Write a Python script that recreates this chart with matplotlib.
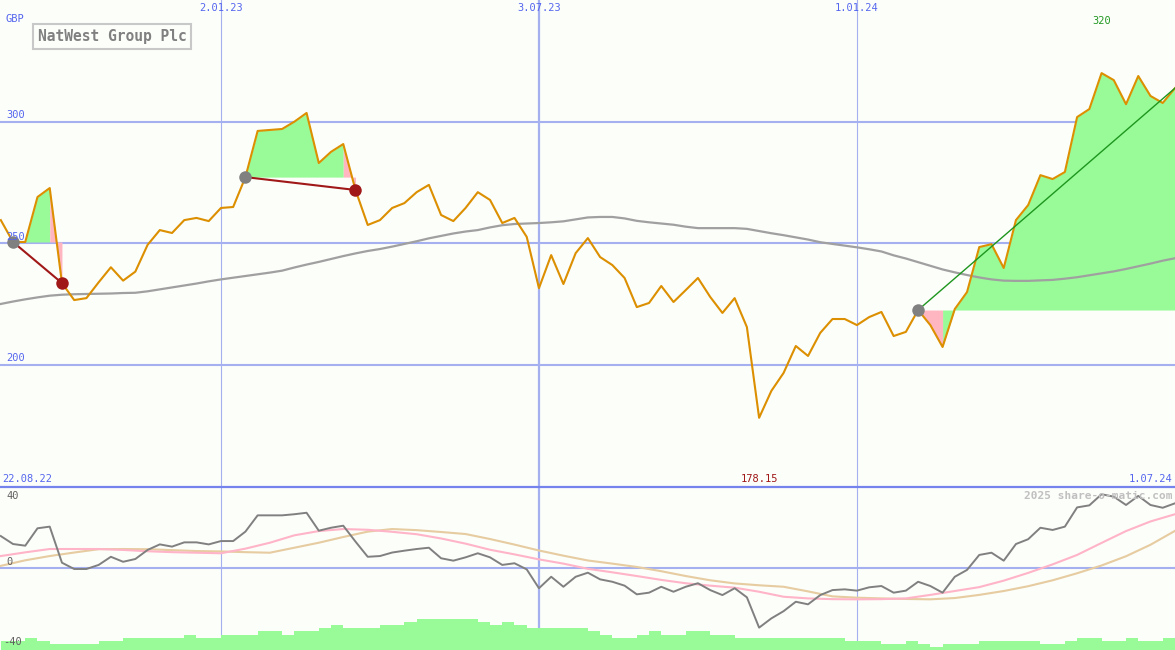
import matplotlib
matplotlib.use("Agg")
import matplotlib.pyplot as plt
import matplotlib.dates as mdates
import matplotlib.transforms as mtransforms
import pandas as pd
import numpy as np

# ---------------- data ----------------
dates = pd.date_range("2022-08-29", periods=97, freq="7D")

price = [259.5, 250.5, 250.5, 269.0, 272.7, 233.6, 226.6, 227.4, 233.9, 240.1,
         234.6, 238.3, 249.3, 255.4, 254.2, 259.5, 260.4, 259.1, 264.5, 264.9,
         277.2, 296.2, 296.6, 297.0, 300.0, 303.6, 283.0, 287.6, 290.8, 271.9,
         257.5, 259.5, 264.5, 266.5, 271.0, 274.0, 261.6, 259.1, 264.5, 271.0,
         267.8, 258.3, 260.4, 252.6, 231.5, 245.1, 233.2, 245.9, 252.1, 244.3,
         241.0, 235.7, 223.7, 225.4, 232.4, 225.8, 230.7, 235.7, 227.9, 221.3,
         227.4, 215.5, 178.15, 189.2, 196.6, 207.7, 203.6, 213.1, 218.8, 218.8,
         216.3, 219.6, 221.7, 211.8, 213.5, 222.5, 216.3, 207.3, 222.9, 229.9,
         248.4, 249.6, 239.8, 259.5, 265.7, 278.0, 276.4, 279.3, 301.9, 305.2,
         320.0, 317.1, 307.2, 318.8, 310.6, 307.7, 313.8]

ma_long = [225.0, 226.0, 226.9, 227.7, 228.4, 228.8, 229.0, 229.1, 229.2, 229.3,
           229.5, 229.6, 230.2, 231.0, 231.8, 232.6, 233.4, 234.3, 235.1, 235.8,
           236.5, 237.2, 237.9, 238.7, 240.0, 241.2, 242.3, 243.5, 244.7, 245.8,
           246.8, 247.6, 248.6, 249.7, 250.8, 252.0, 253.0, 254.0, 254.8, 255.4,
           256.5, 257.4, 257.9, 258.1, 258.3, 258.6, 259.0, 259.8, 260.6, 260.8,
           260.8, 260.2, 259.2, 258.6, 258.1, 257.6, 256.8, 256.2, 256.2, 256.2,
           256.2, 255.9, 255.0, 254.1, 253.3, 252.4, 251.5, 250.4, 249.7, 249.0,
           248.3, 247.5, 246.6, 245.0, 243.7, 242.2, 240.7, 239.2, 238.0, 236.9,
           235.9, 235.1, 234.6, 234.5, 234.5, 234.7, 234.9, 235.4, 236.0, 236.8,
           237.6, 238.4, 239.4, 240.5, 241.6, 242.8, 243.8]

momentum = [17.1, 12.8, 11.9, 21.3, 22.2, 2.7, -0.7, -0.7, 1.5, 5.9,
            3.2, 4.7, 9.6, 12.6, 11.4, 13.7, 13.7, 12.6, 14.4, 14.4,
            19.5, 28.3, 28.3, 28.3, 28.9, 29.7, 20.0, 21.6, 22.7, 14.1,
            5.9, 6.3, 8.2, 9.2, 10.1, 10.8, 5.1, 3.8, 5.6, 7.8,
            5.6, 1.5, 2.4, -0.9, -11.1, -4.9, -10.3, -4.9, -2.7, -6.3,
            -7.6, -9.7, -14.4, -13.5, -10.3, -13.0, -10.3, -8.4, -12.1, -14.8,
            -11.1, -16.0, -32.4, -27.4, -23.5, -18.4, -19.8, -14.8, -12.1, -11.7,
            -12.4, -10.6, -9.9, -13.5, -12.4, -7.6, -9.9, -13.5, -4.9, -1.2,
            6.9, 8.1, 3.8, 12.8, 15.4, 21.6, 20.4, 22.2, 32.6, 33.7,
            39.7, 38.4, 33.9, 38.8, 33.9, 32.4, 34.8]

# smoothed momentum averages, read every second week
mom_fast = [6.3, 8.3, 10.1, 10.1, 10.1, 9.6, 8.9, 8.4, 8.1, 7.8,
            10.3, 13.5, 17.5, 19.8, 20.9, 20.5, 19.4, 18.1, 15.8, 13.0,
            9.7, 7.2, 4.5, 2.2, -0.6, -2.5, -4.5, -6.6, -8.4, -9.7,
            -10.8, -13.0, -15.7, -16.6, -17.0, -17.1, -17.0, -16.6, -14.7, -12.6,
            -10.5, -7.0, -2.8, 1.8, 6.9, 13.4, 19.8, 25.0, 28.9]
mom_slow = [1.0, 4.0, 6.3, 8.2, 10.0, 10.1, 10.0, 9.5, 9.0, 8.8,
            8.4, 8.1, 10.8, 13.5, 16.6, 19.5, 20.9, 20.3, 19.3, 18.2,
            15.5, 12.5, 9.3, 6.5, 3.9, 2.2, 0.4, -1.9, -4.5, -6.8,
            -8.5, -9.5, -10.3, -12.8, -15.5, -16.2, -16.6, -16.9, -17.1, -16.4,
            -14.7, -12.6, -10.0, -6.8, -3.0, 1.2, 6.2, 12.4, 19.9]

# relative weekly volume (arbitrary units)
volume = [9, 9, 12, 9, 6, 6, 6, 6, 9, 9,
          12, 12, 12, 12, 12, 15, 12, 12, 15, 15,
          15, 19, 19, 15, 19, 19, 22, 25, 22, 22,
          22, 25, 25, 28, 31, 31, 31, 31, 31, 28,
          25, 28, 25, 22, 22, 22, 22, 22, 19, 15,
          12, 12, 15, 19, 15, 15, 19, 19, 15, 15,
          12, 12, 12, 12, 12, 12, 12, 12, 12, 9,
          9, 9, 6, 6, 9, 6, 3, 6, 6, 6,
          9, 9, 9, 9, 9, 6, 6, 9, 12, 12,
          9, 9, 12, 9, 9, 12, 12]

# trade signals (week indices): entry, exit, green span, pink span
sig_entry = [1, 20, 75]
sig_exit = [5, 29, 96]
sig_open = [False, False, True]
sig_green = [(1, 4), (20, 28), (77, 96)]
sig_pink = [(4, 5), (28, 29), (75, 77)]

price_ticks = [200, 250, 300]
grid_dates = ["2023-01-02", "2023-07-03", "2024-01-01"]
grid_labels = ["2.01.23", "3.07.23", "1.01.24"]
start_label = "22.08.22"
end_label = "1.07.24"
title = "NatWest Group Plc"
currency = "GBP"
low_ticks = [40, 0, -40]

# ---------------- drawing ----------------
W, H = 1175, 650
MAIN_H = 487
LOW_H = H - MAIN_H
BG = "#fcfefa"
GRID = "#a4b0f0"
BLUE_TXT = "#5566ee"
FONT = "DejaVu Sans Mono"

fig = plt.figure(figsize=(W / 100, H / 100), dpi=100)
fig.patch.set_facecolor(BG)
ax = fig.add_axes([0, LOW_H / H, 1, MAIN_H / H])
axl = fig.add_axes([0, 0, 1, LOW_H / H])
for a in (ax, axl):
    a.set_facecolor(BG)
    for s in a.spines.values():
        s.set_visible(False)
    a.set_xticks([])
    a.set_yticks([])

x = mdates.date2num(dates.to_pydatetime())
xh = x[::2]
px_day = 636.0 / 364.0
x_left = x[0] - 0.8 / px_day
x_right = x_left + W / px_day
for a in (ax, axl):
    a.set_xlim(x_left, x_right)

ppu = 2.43
ax.set_ylim(300 - (MAIN_H - 121.7) / ppu, 300 + 121.7 / ppu)
lppu = 1.85
axl.set_ylim(-(H - 567.7) / lppu, (567.7 - 487) / lppu)

# grid
for v in price_ticks:
    ax.axhline(v, color=GRID, lw=1.5, zorder=1)
gx = mdates.date2num(pd.to_datetime(grid_dates).to_pydatetime())
for i, g in enumerate(gx):
    lw = 1.6 if i == 1 else 0.8
    ax.axvline(g, color=GRID, lw=lw, zorder=1)
    axl.axvline(g, color=GRID, lw=lw, zorder=1)
axl.axhline(0, color=GRID, lw=1.5, zorder=1)
axl.spines["top"].set_visible(True)
axl.spines["top"].set_color("#7484ec")
axl.spines["top"].set_linewidth(1.6)

# signal fills
p = np.array(price)
for (e, g, pk) in zip(sig_entry, sig_green, sig_pink):
    base = p[e]
    a0, a1 = g
    ax.fill_between(x[a0:a1 + 1], base, p[a0:a1 + 1], interpolate=True,
                    color="#98fb98", lw=0, zorder=2)
    b0, b1 = pk
    ax.fill_between(x[b0:b1 + 1], base, p[b0:b1 + 1], interpolate=True,
                    color="#ffb6c1", lw=0, zorder=2)

ax.plot(x, ma_long, color="#a0a0a0", lw=1.6, zorder=3)
ax.plot(x, price, color="#dc8f00", lw=1.5, zorder=4)

for e, xo, op in zip(sig_entry, sig_exit, sig_open):
    if op:
        ax.plot([x[e], x[xo]], [p[e], p[xo]], color="#1e961e", lw=1.0, zorder=5)
    else:
        ax.plot([x[e], x[xo]], [p[e], p[xo]], color="#a01818", lw=1.5, zorder=5)
        ax.plot(x[xo], p[xo], "o", color="#a01818", ms=9, mew=0, zorder=6)
    ax.plot(x[e], p[e], "o", color="#808080", ms=9, mew=0, zorder=6)

# texts main panel
def px(xp, yp, h):
    return xp / W, 1 - yp / h

ax.text(*px(6, 19, MAIN_H), currency, transform=ax.transAxes, color=BLUE_TXT,
        fontsize=7.5, family=FONT, va="center", ha="left", zorder=7)
for v in price_ticks:
    ax.annotate(str(v), xy=(0, v), xycoords=("axes fraction", "data"),
                xytext=(4.5, 4.5), textcoords="offset points", color=BLUE_TXT,
                fontsize=7.5, family=FONT, va="center", ha="left", zorder=7)
tr_top = mtransforms.blended_transform_factory(ax.transData, ax.transAxes)
for g, lab in zip(gx, grid_labels):
    ax.text(g, 1 - 8 / MAIN_H, lab, transform=tr_top, color=BLUE_TXT,
            fontsize=7.5, family=FONT, ha="center", va="center")
imax = int(np.argmax(p))
imin = int(np.argmin(p))
ax.text(x[imax], 1 - 21 / MAIN_H, f"{p[imax]:g}", transform=tr_top,
        color="#229922", fontsize=7.5, family=FONT, ha="center", va="center")
ax.text(x[imin], 1 - 479 / MAIN_H, f"{p[imin]:.2f}", transform=tr_top,
        color="#a01818", fontsize=7.5, family=FONT, ha="center", va="center")
ax.text(*px(2, 479, MAIN_H), start_label, transform=ax.transAxes,
        color=BLUE_TXT, fontsize=7.5, family=FONT, ha="left", va="center")
ax.text(*px(1172, 479, MAIN_H), end_label, transform=ax.transAxes,
        color=BLUE_TXT, fontsize=7.5, family=FONT, ha="right", va="center")
ax.text(*px(38, 36.5, MAIN_H), title, transform=ax.transAxes, color="#808080",
        fontsize=10.5, family=FONT, fontweight="bold", ha="left", va="center",
        zorder=8,
        bbox=dict(boxstyle="square,pad=0.32", fc="none", ec="#c8c8c8", lw=1.5))

# lower panel
axl.plot(xh, mom_slow, color="#e6cca0", lw=1.5, zorder=3)
axl.plot(xh, mom_fast, color="#ffb4c8", lw=1.5, zorder=3)
axl.plot(x, momentum, color="#808080", lw=1.4, zorder=4)

axv = axl.twinx()
axv.set_ylim(0, LOW_H)
axv.set_xlim(x_left, x_right)
axv.patch.set_visible(False)
for s in axv.spines.values():
    s.set_visible(False)
axv.set_yticks([])
axv.set_xticks([])
axv.bar(x, volume, width=7, align="edge", color="#98fb98", lw=0, zorder=1)

low_pos = {40: (6, 496), 0: (6, 562), -40: (3, 642)}
for v in low_ticks:
    xp, yp = low_pos[v]
    axv.text(xp / W, 1 - (yp - MAIN_H) / LOW_H, str(v), transform=axv.transAxes,
             color="#606060", fontsize=7.5, family=FONT, ha="left", va="center",
             zorder=7)
axv.text(1172 / W, 1 - (496 - MAIN_H) / LOW_H, "2025 share-o-matic.com",
         transform=axv.transAxes, color="#c0c0c0", fontsize=8, family=FONT,
         fontweight="bold", ha="right", va="center", zorder=7)

fig.savefig("out.png", dpi=100, facecolor=BG)
